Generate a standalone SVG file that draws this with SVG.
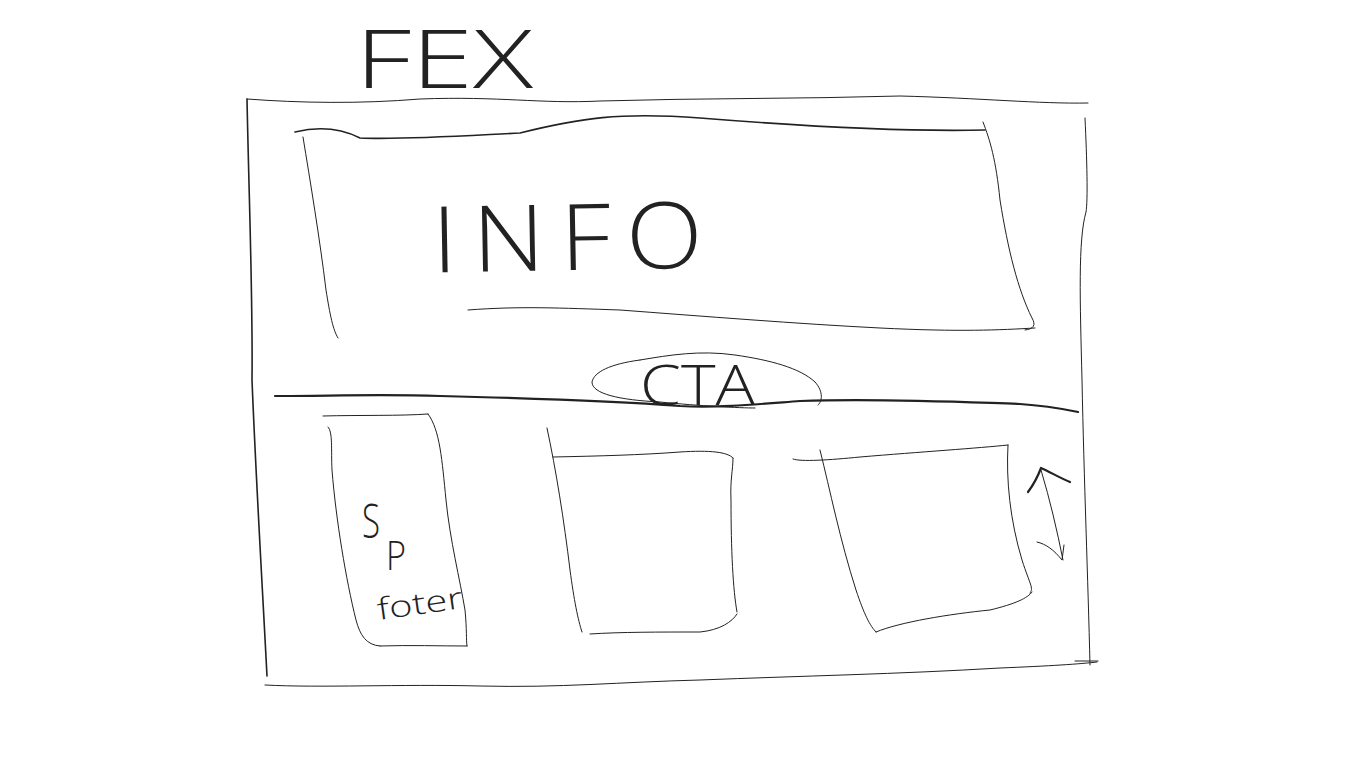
<svg xmlns="http://www.w3.org/2000/svg" width="1366" height="768" viewBox="0 0 1366 768">
<style>
.s{fill:none;stroke:#222;stroke-linecap:round;stroke-linejoin:round}
.t1{stroke-width:1}
.t2{stroke-width:1.6}
.t3{stroke-width:2.2}
.txt{font-family:"Open Sans","Liberation Sans",sans-serif;font-weight:300;fill:#222}
</style>
<rect width="1366" height="768" fill="#fff"/>
<g id="frame">
<path class="s t1" d="M247,99 C300,103 360,104 420,99 C500,96 540,104 600,101 C700,98 800,99 900,96 C980,98 1040,104 1088,103"/>
<path class="s t2" d="M247,99 C249,200 253,300 252,380 C256,480 262,580 267,676"/>
<path class="s t1" d="M1085,118 C1087,160 1088,200 1086,212 C1078,240 1080,300 1082,380 C1084,480 1088,580 1090,665"/>
<path class="s t1" d="M265,685 C320,688 400,684 480,686 C560,688 620,682 700,680 C800,676 900,674 1000,668 C1050,666 1080,664 1097,662"/>
<path class="s t1" d="M1075,661 L1098,661"/>
</g>
<g id="header">
<text class="txt" x="355" y="88" font-size="82" textLength="178" lengthAdjust="spacingAndGlyphs">FEX</text>
</g>
<g id="info">
<path class="s t2" d="M295,132 C320,126 340,128 360,138 C400,140 460,136 520,133 C580,118 620,112 700,118 C800,126 900,132 985,130"/>
<path class="s t1" d="M303,137 C310,180 320,240 326,290 C330,315 333,330 338,338"/>
<path class="s t1" d="M983,122 C990,140 996,160 1000,200 C1008,250 1018,290 1032,318 C1036,325 1034,329 1025,330"/>
<path class="s t1" d="M468,310 C520,306 560,308 620,310 C700,316 800,324 880,328 C960,332 1000,330 1035,328"/>
<text class="txt" x="432" y="270" font-size="92" letter-spacing="14" textLength="286" lengthAdjust="spacingAndGlyphs" transform="rotate(-1 570 240)">INFO</text>
</g>
<g id="divider">
<path class="s t3" d="M275,396 C330,396 380,394 440,396 C520,398 600,400 680,406 C720,408 760,404 800,401 C880,398 960,402 1020,404 C1050,406 1068,410 1078,412"/>
</g>
<g id="cta">
<path class="s t1" d="M640,360 C670,355 700,350 735,355 C770,360 800,368 815,382 C824,392 822,402 818,405 M640,360 C610,364 594,372 592,382 C592,394 620,400 660,402 C700,406 740,408 755,408"/>
<text class="txt" x="640" y="405" font-size="56" textLength="115" lengthAdjust="spacingAndGlyphs">CTA</text>
</g>
<g id="sidebar">
<path class="s t1" d="M323,416 C360,415 400,416 428,414"/>
<path class="s t1" d="M328,427 C333,432 331,450 332,470 C336,520 346,580 356,620 C360,635 366,645 380,646"/>
<path class="s t1" d="M428,414 C440,430 442,460 446,500 C450,540 460,580 465,610 C467,630 466,640 467,646"/>
<path class="s t1" d="M380,646 C410,645 440,646 467,646"/>
<text class="txt" x="362" y="538" font-size="48" textLength="18" lengthAdjust="spacingAndGlyphs">S</text>
<text class="txt" x="386" y="570" font-size="40" textLength="20" lengthAdjust="spacingAndGlyphs">P</text>
<text class="txt" x="377" y="614" font-size="30" textLength="86" lengthAdjust="spacingAndGlyphs" transform="rotate(-8 420 605)">foter</text>
</g>
<g id="card1">
<path class="s t1" d="M547,428 C556,470 564,520 570,570 C574,600 578,620 582,632"/>
<path class="s t1" d="M553,457 C600,456 640,455 680,452 C710,450 728,452 733,458"/>
<path class="s t1" d="M733,458 C733,470 730,480 731,500 C731,550 733,590 737,612"/>
<path class="s t1" d="M590,634 C620,632 660,632 700,632 C720,630 732,622 737,614"/>
</g>
<g id="card2">
<path class="s t1" d="M793,459 C800,462 830,460 860,457 C920,452 980,448 1008,445"/>
<path class="s t1" d="M820,450 C830,490 840,540 856,590 C864,614 870,626 876,632"/>
<path class="s t1" d="M1008,445 C1006,480 1010,520 1022,560 C1030,585 1034,588 1030,593"/>
<path class="s t1" d="M876,632 C900,622 950,614 990,610 C1015,604 1028,598 1032,592"/>
</g>
<g id="connectors">
<path class="s t1" d="M1041,470 C1050,500 1057,530 1063,560"/>
<path class="s t3" d="M1028,492 C1034,484 1038,476 1041,468 C1050,472 1060,478 1070,482"/>
<path class="s t1" d="M1037,542 C1046,544 1054,550 1062,560 L1064,545"/>
</g>
</svg>
